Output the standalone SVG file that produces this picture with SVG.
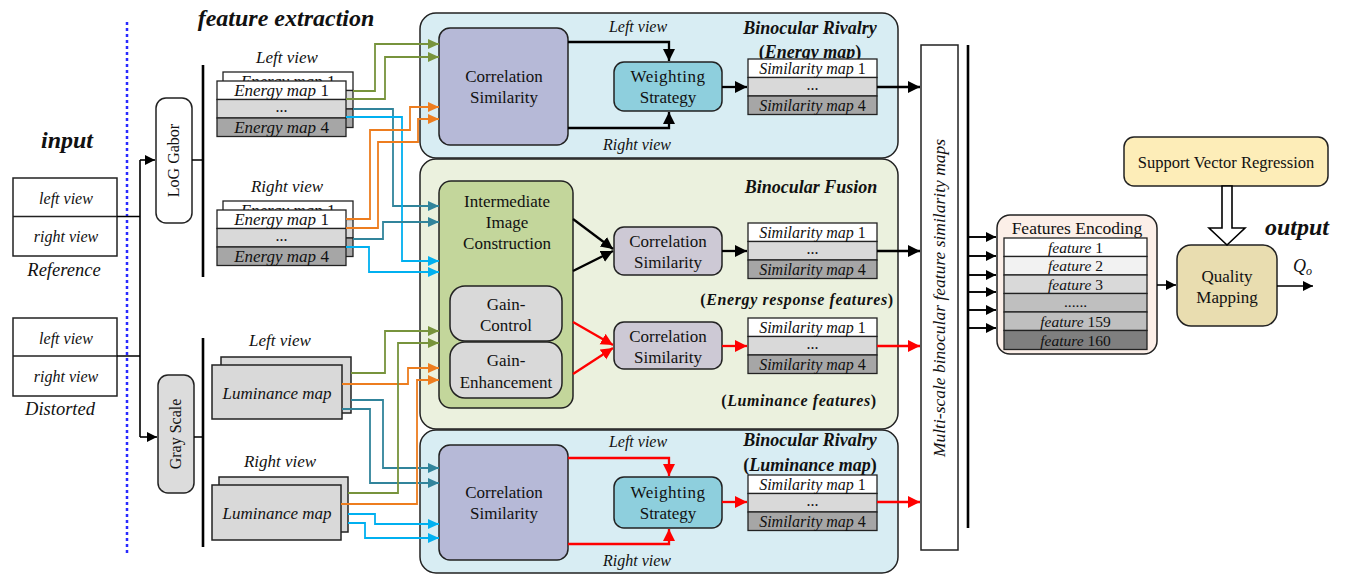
<svg xmlns="http://www.w3.org/2000/svg" width="1345" height="576" viewBox="0 0 1345 576">
<style>
text{font-family:"Liberation Serif","Times New Roman",serif;fill:#111;}
.it{font-style:italic;}
.bi{font-style:italic;font-weight:bold;}
.b{font-weight:bold;}
.c{text-anchor:middle;}
.box{stroke:#222;stroke-width:1.5;}
.row{stroke:#222;stroke-width:1.3;}
.bk{fill:none;stroke:#000;stroke-width:1.6;}
.bar{fill:none;stroke:#000;stroke-width:2.6;}
.pa{fill:none;stroke:#000;stroke-width:2.3;}
.pr{fill:none;stroke:#ff0000;stroke-width:2.3;}
.g{fill:none;stroke:#77933c;stroke-width:1.8;}
.o{fill:none;stroke:#ed7d1f;stroke-width:1.8;}
.t{fill:none;stroke:#31849b;stroke-width:1.8;}
.lb{fill:none;stroke:#00b0f0;stroke-width:1.8;}
.s17{font-size:17px;}
.s16{font-size:16px;}
</style>
<defs>
<marker id="aBk" markerUnits="userSpaceOnUse" markerWidth="12" markerHeight="12" refX="10" refY="5" orient="auto"><path d="M0,0 L10,5 L0,10 z" fill="#000"/></marker>
<marker id="aBk2" markerUnits="userSpaceOnUse" markerWidth="14" markerHeight="14" refX="12" refY="6" orient="auto"><path d="M0,0 L12,6 L0,12 z" fill="#000"/></marker>
<marker id="aR" markerUnits="userSpaceOnUse" markerWidth="14" markerHeight="14" refX="12" refY="6" orient="auto"><path d="M0,0 L12,6 L0,12 z" fill="#ff0000"/></marker>
<marker id="aG" markerUnits="userSpaceOnUse" markerWidth="12" markerHeight="12" refX="11" refY="5" orient="auto"><path d="M0,0 L11,5 L0,10 z" fill="#77933c"/></marker>
<marker id="aO" markerUnits="userSpaceOnUse" markerWidth="12" markerHeight="12" refX="11" refY="5" orient="auto"><path d="M0,0 L11,5 L0,10 z" fill="#ed7d1f"/></marker>
<marker id="aT" markerUnits="userSpaceOnUse" markerWidth="12" markerHeight="12" refX="11" refY="5" orient="auto"><path d="M0,0 L11,5 L0,10 z" fill="#31849b"/></marker>
<marker id="aLB" markerUnits="userSpaceOnUse" markerWidth="12" markerHeight="12" refX="11" refY="5" orient="auto"><path d="M0,0 L11,5 L0,10 z" fill="#00b0f0"/></marker>
<clipPath id="clipL"><rect x="222" y="71" width="132" height="10"/></clipPath>
<clipPath id="clipR"><rect x="222" y="200" width="132" height="10"/></clipPath>
</defs>

<!-- titles -->
<text class="bi c" x="67" y="148" font-size="24">input</text>
<text class="bi c" x="286" y="26" font-size="24">feature extraction</text>
<text class="bi c" x="1297" y="235" font-size="24">output</text>

<line x1="127" y1="22" x2="127" y2="555" stroke="#2a2aff" stroke-width="2.5" stroke-dasharray="3,3"/>

<!-- inputs -->
<g id="reference">
<rect class="box" x="13" y="178" width="104" height="78" fill="#fff"/>
<line class="row" x1="13" y1="216.5" x2="117" y2="216.5"/>
<text class="it c s16" x="66" y="204">left view</text>
<text class="it c s16" x="66" y="242">right view</text>
<text class="it c" x="64" y="276" font-size="18.5">Reference</text>
</g>
<g id="distorted">
<rect class="box" x="13" y="318" width="104" height="78" fill="#fff"/>
<line class="row" x1="13" y1="356" x2="117" y2="356"/>
<text class="it c s16" x="66" y="344">left view</text>
<text class="it c s16" x="66" y="382">right view</text>
<text class="it c" x="60" y="415" font-size="18.5">Distorted</text>
</g>

<g id="loggabor">
<rect class="box" x="156" y="98" width="36" height="125" rx="10" fill="#fff"/>
<text class="c s16" transform="translate(179,160.5) rotate(-90)">LoG Gabor</text>
</g>
<g id="grayscale">
<rect class="box" x="158" y="375" width="36" height="118" rx="10" fill="#dcdcdc"/>
<text class="c s16" transform="translate(181,434) rotate(-90)">Gray Scale</text>
</g>

<!-- energy maps left -->
<g id="energy-left">
<text class="it c s17" x="287" y="63">Left view</text>
<rect class="row" x="223" y="72" width="130" height="18.5" fill="#fff"/>
<rect class="row" x="223" y="90.5" width="130" height="18.5" fill="#d9d9d9"/>
<rect class="row" x="223" y="109" width="130" height="18.5" fill="#a6a6a6"/>
<text class="it c s17" x="288" y="87" clip-path="url(#clipL)">Energy map <tspan font-style="normal">1</tspan></text>
<rect class="row" x="217" y="81" width="129" height="18.5" fill="#fff"/>
<rect class="row" x="217" y="99.5" width="129" height="18.5" fill="#d9d9d9"/>
<rect class="row" x="217" y="118" width="129" height="18.5" fill="#a6a6a6"/>
<text class="it c s17" x="281.5" y="96">Energy map <tspan font-style="normal">1</tspan></text>
<text class="c s16" x="281.5" y="112">...</text>
<text class="it c s17" x="281.5" y="133">Energy map <tspan font-style="normal">4</tspan></text>
</g>
<g id="energy-right">
<text class="it c s17" x="287" y="192">Right view</text>
<rect class="row" x="223" y="201" width="130" height="18.5" fill="#fff"/>
<rect class="row" x="223" y="219.5" width="130" height="18.5" fill="#d9d9d9"/>
<rect class="row" x="223" y="238" width="130" height="18.5" fill="#a6a6a6"/>
<text class="it c s17" x="288" y="216" clip-path="url(#clipR)">Energy map <tspan font-style="normal">1</tspan></text>
<rect class="row" x="217" y="210" width="129" height="18.5" fill="#fff"/>
<rect class="row" x="217" y="228.5" width="129" height="18.5" fill="#d9d9d9"/>
<rect class="row" x="217" y="247" width="129" height="18.5" fill="#a6a6a6"/>
<text class="it c s17" x="281.5" y="225">Energy map <tspan font-style="normal">1</tspan></text>
<text class="c s16" x="281.5" y="241">...</text>
<text class="it c s17" x="281.5" y="262">Energy map <tspan font-style="normal">4</tspan></text>
</g>

<!-- luminance maps -->
<g id="lum-left">
<text class="it c s17" x="280" y="346">Left view</text>
<rect class="box" x="221" y="357" width="130" height="56" fill="#d9d9d9"/>
<rect class="box" x="212" y="365" width="130" height="54" fill="#d9d9d9"/>
<text class="it c s17" x="277" y="399">Luminance map</text>
</g>
<g id="lum-right">
<text class="it c s17" x="280" y="467">Right view</text>
<rect class="box" x="219" y="477" width="129" height="55" fill="#d9d9d9"/>
<rect class="box" x="212" y="485" width="129" height="55" fill="#d9d9d9"/>
<text class="it c s17" x="277" y="519">Luminance map</text>
</g>

<!-- panels -->
<g id="panel-rivalry-energy">
<rect class="box" x="420" y="13" width="478" height="145" rx="16" fill="#d8edf3"/>
<text class="bi c" x="810" y="34" font-size="18">Binocular Rivalry</text>
<text class="b c" x="810" y="58" font-size="18">(<tspan font-style="italic">Energy map</tspan>)</text>
<text class="it c s16" x="638" y="32">Left view</text>
<text class="it c s16" x="637" y="150">Right view</text>
</g>
<g id="panel-fusion">
<rect class="box" x="420" y="159" width="478" height="270" rx="16" fill="#ebf1de"/>
<text class="bi c" x="811" y="193" font-size="18">Binocular Fusion</text>
<text class="b c" x="797" y="305" font-size="16" letter-spacing="0.6">(<tspan font-style="italic">Energy response features</tspan>)</text>
<text class="b c" x="799" y="406" font-size="16" letter-spacing="0.6">(<tspan font-style="italic">Luminance features</tspan>)</text>
</g>
<g id="panel-rivalry-lum">
<rect class="box" x="420" y="430" width="478" height="143" rx="16" fill="#d8edf3"/>
<text class="bi c" x="810" y="446" font-size="18">Binocular Rivalry</text>
<text class="b c" x="810" y="471" font-size="18">(<tspan font-style="italic">Luminance map</tspan>)</text>
<text class="it c s16" x="638" y="447">Left view</text>
<text class="it c s16" x="637" y="566">Right view</text>
</g>

<g id="corr-top">
<rect class="box" x="439" y="28" width="129" height="117" rx="11" fill="#b6b9d7"/>
<text class="c s17" x="504" y="82">Correlation</text>
<text class="c s17" x="504" y="103">Similarity</text>
</g>
<g id="weight-top">
<rect class="box" x="614" y="62" width="108" height="49" rx="10" fill="#8ecfdd"/>
<text class="c s17" x="668" y="82" letter-spacing="0.5">Weighting</text>
<text class="c s17" x="668" y="103">Strategy</text>
</g>
<g id="sim-top">
<rect class="row" x="748" y="59" width="129" height="18.5" fill="#fff"/>
<rect class="row" x="748" y="77.5" width="129" height="18.5" fill="#d9d9d9"/>
<rect class="row" x="748" y="96" width="129" height="18.5" fill="#a6a6a6"/>
<text class="it c s16" x="812.5" y="74">Similarity map <tspan font-style="normal">1</tspan></text>
<text class="c s16" x="812.5" y="90">...</text>
<text class="it c s16" x="812.5" y="111">Similarity map <tspan font-style="normal">4</tspan></text>
</g>

<g id="intermediate">
<rect class="box" x="439" y="181" width="134" height="227" rx="12" fill="#c3d69b"/>
<text class="c s17" x="507" y="207">Intermediate</text>
<text class="c s17" x="507" y="228">Image</text>
<text class="c s17" x="507" y="249">Construction</text>
</g>
<g id="gain-control">
<rect class="box" x="450" y="286" width="112" height="55" rx="15" fill="#d9d9d9"/>
<text class="c s17" x="506" y="310">Gain-</text>
<text class="c s17" x="506" y="331">Control</text>
</g>
<g id="gain-enhancement">
<rect class="box" x="450" y="342" width="112" height="56" rx="15" fill="#d9d9d9"/>
<text class="c s17" x="506" y="366">Gain-</text>
<text class="c s17" x="506" y="388">Enhancement</text>
</g>
<g id="corr-mid1">
<rect class="box" x="614" y="227" width="108" height="48" rx="10" fill="#cdc9d5"/>
<text class="c s17" x="668" y="247">Correlation</text>
<text class="c s17" x="668" y="268">Similarity</text>
</g>
<g id="sim-mid1">
<rect class="row" x="748" y="223" width="129" height="18.5" fill="#fff"/>
<rect class="row" x="748" y="241.5" width="129" height="18.5" fill="#d9d9d9"/>
<rect class="row" x="748" y="260" width="129" height="18.5" fill="#a6a6a6"/>
<text class="it c s16" x="812.5" y="238">Similarity map <tspan font-style="normal">1</tspan></text>
<text class="c s16" x="812.5" y="254">...</text>
<text class="it c s16" x="812.5" y="275">Similarity map <tspan font-style="normal">4</tspan></text>
</g>
<g id="corr-mid2">
<rect class="box" x="614" y="322" width="108" height="47" rx="10" fill="#cdc9d5"/>
<text class="c s17" x="668" y="342">Correlation</text>
<text class="c s17" x="668" y="363">Similarity</text>
</g>
<g id="sim-mid2">
<rect class="row" x="748" y="318" width="129" height="18.5" fill="#fff"/>
<rect class="row" x="748" y="336.5" width="129" height="18.5" fill="#d9d9d9"/>
<rect class="row" x="748" y="355" width="129" height="18.5" fill="#a6a6a6"/>
<text class="it c s16" x="812.5" y="333">Similarity map <tspan font-style="normal">1</tspan></text>
<text class="c s16" x="812.5" y="349">...</text>
<text class="it c s16" x="812.5" y="370">Similarity map <tspan font-style="normal">4</tspan></text>
</g>

<g id="corr-bot">
<rect class="box" x="439" y="445" width="129" height="115" rx="11" fill="#b6b9d7"/>
<text class="c s17" x="504" y="498">Correlation</text>
<text class="c s17" x="504" y="519">Similarity</text>
</g>
<g id="weight-bot">
<rect class="box" x="614" y="477" width="108" height="51" rx="10" fill="#8ecfdd"/>
<text class="c s17" x="668" y="498" letter-spacing="0.5">Weighting</text>
<text class="c s17" x="668" y="519">Strategy</text>
</g>
<g id="sim-bot">
<rect class="row" x="748" y="475" width="129" height="18.5" fill="#fff"/>
<rect class="row" x="748" y="493.5" width="129" height="18.5" fill="#d9d9d9"/>
<rect class="row" x="748" y="512" width="129" height="18.5" fill="#a6a6a6"/>
<text class="it c s16" x="812.5" y="490">Similarity map <tspan font-style="normal">1</tspan></text>
<text class="c s16" x="812.5" y="506">...</text>
<text class="it c s16" x="812.5" y="527">Similarity map <tspan font-style="normal">4</tspan></text>
</g>

<g id="multiscale">
<rect class="box" x="921" y="45" width="37" height="505" fill="#fff"/>
<text class="it c" font-size="17.5" transform="translate(945,298) rotate(-90)">Multi-scale binocular feature similarity maps</text>
</g>

<g id="features-encoding">
<rect class="box" x="997" y="215" width="160" height="139" rx="13" fill="#fcefe8"/>
<text class="c" x="1077" y="234" font-size="17.5">Features Encoding</text>
<rect class="row" x="1004" y="238" width="143" height="18.5" fill="#fff"/>
<rect class="row" x="1004" y="256.5" width="143" height="18.5" fill="#f2f2f2"/>
<rect class="row" x="1004" y="275" width="143" height="18.5" fill="#d9d9d9"/>
<rect class="row" x="1004" y="293.5" width="143" height="18.5" fill="#bfbfbf"/>
<rect class="row" x="1004" y="312" width="143" height="18.5" fill="#bfbfbf"/>
<rect class="row" x="1004" y="330.5" width="143" height="19" fill="#7f7f7f"/>
<text class="it c" x="1075.5" y="253" font-size="15.5">feature <tspan font-style="normal">1</tspan></text>
<text class="it c" x="1075.5" y="271" font-size="15.5">feature <tspan font-style="normal">2</tspan></text>
<text class="it c" x="1075.5" y="290" font-size="15.5">feature <tspan font-style="normal">3</tspan></text>
<text class="c" x="1075.5" y="307" font-size="15.5">......</text>
<text class="it c" x="1075.5" y="327" font-size="15.5">feature <tspan font-style="normal">159</tspan></text>
<text class="it c" x="1075.5" y="346" font-size="15.5">feature <tspan font-style="normal">160</tspan></text>
</g>

<g id="svr">
<rect class="box" x="1124" y="137" width="204" height="49" rx="10" fill="#fdedb8"/>
<text class="c" x="1226" y="168" font-size="16.5">Support Vector Regression</text>
</g>
<g id="quality">
<rect class="box" x="1177" y="245" width="100" height="81" rx="14" fill="#e9ddb0"/>
<text class="c s17" x="1227" y="282">Quality</text>
<text class="c s17" x="1227" y="303">Mapping</text>
</g>
<text class="it" x="1293" y="272" font-size="18">Q<tspan font-size="12" dy="3">o</tspan></text>

<!-- connectors -->
<g id="connectors">
<path class="bk" d="M117,216.5 H140 M117,356 H140 M140,160 V437"/>
<path class="bk" d="M140,160 H155" marker-end="url(#aBk)"/>
<path class="bk" d="M140,437 H157" marker-end="url(#aBk)"/>
<path class="bk" d="M192,160 H203 M194,437 H203"/>
<path class="bar" d="M203,65 V277 M203,338 V547"/>

<path class="g" d="M353,91 H375 V44 H439" marker-end="url(#aG)"/>
<path class="g" d="M346,99 H385 V57 H439" marker-end="url(#aG)"/>
<path class="t" d="M353,109 H393 V206 H439" marker-end="url(#aT)"/>
<path class="lb" d="M346,117 H402 V261 H439" marker-end="url(#aLB)"/>
<path class="o" d="M346,219 H370 V130 H410 V107 H439" marker-end="url(#aO)"/>
<path class="o" d="M346,228 H378 V142 H418 V119 H439" marker-end="url(#aO)"/>
<path class="t" d="M353,239 H383 V222 H439" marker-end="url(#aT)"/>
<path class="lb" d="M346,247 H369 V272 H439" marker-end="url(#aLB)"/>

<path class="g" d="M351,373 H385 V331 H439" marker-end="url(#aG)"/>
<path class="o" d="M342,384 H408 V368 H439" marker-end="url(#aO)"/>
<path class="t" d="M351,400 H383 V468 H439" marker-end="url(#aT)"/>
<path class="t" d="M342,409 H370 V483 H439" marker-end="url(#aT)"/>
<path class="g" d="M348,493 H398 V343 H439" marker-end="url(#aG)"/>
<path class="o" d="M341,504 H417 V380 H439" marker-end="url(#aO)"/>
<path class="lb" d="M348,514 H375 V524 H439" marker-end="url(#aLB)"/>
<path class="lb" d="M348,523 H365 V538 H439" marker-end="url(#aLB)"/>

<path class="pa" d="M568,42 H669 V61" marker-end="url(#aBk2)"/>
<path class="pa" d="M568,128 H669 V112" marker-end="url(#aBk2)"/>
<path class="pa" d="M722,87 H747" marker-end="url(#aBk2)"/>
<path class="pa" d="M877,87 H920" marker-end="url(#aBk2)"/>

<path class="pa" d="M573,219 L613,249" marker-end="url(#aBk2)"/>
<path class="pa" d="M573,271 L613,251" marker-end="url(#aBk2)"/>
<path class="pa" d="M722,251 H747" marker-end="url(#aBk2)"/>
<path class="pa" d="M877,251 H920" marker-end="url(#aBk2)"/>
<path class="pr" d="M573,322 L613,345" marker-end="url(#aR)"/>
<path class="pr" d="M573,374 L613,348" marker-end="url(#aR)"/>
<path class="pr" d="M722,346 H747" marker-end="url(#aR)"/>
<path class="pr" d="M877,346 H920" marker-end="url(#aR)"/>

<path class="pr" d="M568,458 H669 V476" marker-end="url(#aR)"/>
<path class="pr" d="M568,544 H669 V529" marker-end="url(#aR)"/>
<path class="pr" d="M722,502 H747" marker-end="url(#aR)"/>
<path class="pr" d="M877,502 H920" marker-end="url(#aR)"/>

<path class="bar" d="M968,45 V528"/>
<path class="bk" d="M968,237 H996 M968,256 H996 M968,275 H996 M968,292 H996 M968,310 H996 M968,328 H996" stroke-width="2"/>
<path class="bk" stroke-width="2" d="M968,237 H996" marker-end="url(#aBk)"/>
<path class="bk" stroke-width="2" d="M968,256 H996" marker-end="url(#aBk)"/>
<path class="bk" stroke-width="2" d="M968,275 H996" marker-end="url(#aBk)"/>
<path class="bk" stroke-width="2" d="M968,292 H996" marker-end="url(#aBk)"/>
<path class="bk" stroke-width="2" d="M968,310 H996" marker-end="url(#aBk)"/>
<path class="bk" stroke-width="2" d="M968,328 H996" marker-end="url(#aBk)"/>
<path class="bk" stroke-width="2" d="M1157,285 H1176" marker-end="url(#aBk)"/>
<path class="bk" stroke-width="2" d="M1277,286 H1313" marker-end="url(#aBk)"/>
<polygon points="1222,186 1232,186 1232,228 1245,228 1227,245 1209,228 1222,228" fill="#fff" stroke="#000" stroke-width="1.6"/>
</g>
</svg>
